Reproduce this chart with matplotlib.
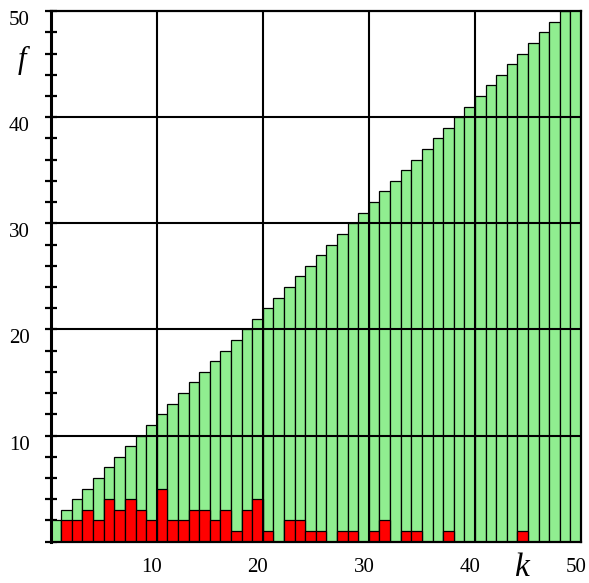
import numpy as np
import matplotlib
matplotlib.use("Agg")
import matplotlib.pyplot as plt
from matplotlib.ticker import MultipleLocator, FixedLocator
from matplotlib.transforms import ScaledTranslation

# bar index k (bar k covers the interval [k-1, k])
k = list(range(1, 51))
total = [2, 3, 4, 5, 6, 7, 8, 9, 10, 11,
         12, 13, 14, 15, 16, 17, 18, 19, 20, 21,
         22, 23, 24, 25, 26, 27, 28, 29, 30, 31,
         32, 33, 34, 35, 36, 37, 38, 39, 40, 41,
         42, 43, 44, 45, 46, 47, 48, 49, 50, 51]
marked = [0, 2, 2, 3, 2, 4, 3, 4, 3, 2,
          5, 2, 2, 3, 3, 2, 3, 1, 3, 4,
          1, 0, 2, 2, 1, 1, 0, 1, 1, 0,
          1, 2, 0, 1, 1, 0, 0, 1, 0, 0,
          0, 0, 0, 0, 1, 0, 0, 0, 0, 0]
xticks = [10, 20, 30, 40, 50]
yticks = [10, 20, 30, 40, 50]

plt.rcParams["font.family"] = ["Liberation Serif", "DejaVu Serif"]

fig = plt.figure(figsize=(5.89, 5.83), dpi=100)
ax = fig.add_axes([0.086, 0.071, 0.9005, 0.910])

left = [v - 1 for v in k]
ax.bar(left, total, width=1.0, align="edge", color="#90EE90",
       edgecolor="black", linewidth=0.9, zorder=2)
ax.bar(left, marked, width=1.0, align="edge", color="#FF0000",
       edgecolor="black", linewidth=0.9, zorder=3)

ax.set_xlim(0, 50)
ax.set_ylim(0, 50)

# grid lines drawn over the bars
for v in xticks[:-1]:
    ax.axvline(v, color="black", lw=1.5, zorder=4)
for v in yticks[:-1]:
    ax.axhline(v, color="black", lw=1.5, zorder=4)

for side in ["top", "right", "bottom"]:
    ax.spines[side].set_linewidth(1.6)
ax.spines["left"].set_linewidth(2.2)
for s in ax.spines.values():
    s.set_zorder(5)

ax.xaxis.set_major_locator(FixedLocator(xticks))
ax.yaxis.set_major_locator(FixedLocator(yticks))
ax.yaxis.set_minor_locator(MultipleLocator(2))
ax.tick_params(axis="y", which="both", direction="inout", length=8,
               width=1.6, labelsize=15, pad=11)
ax.tick_params(axis="x", which="both", length=0, labelsize=15, pad=12)
ax.set_xticklabels([str(v) for v in xticks])
ax.set_yticklabels([str(v) for v in yticks])
for lab in ax.get_yticklabels():
    lab.set_va("top")
for lab in ax.get_xticklabels():
    lab.set_transform(lab.get_transform() + ScaledTranslation(-0.05, 0, fig.dpi_scale_trans))

fig.text(22 / 589, 1 - 60 / 583, "f", fontsize=22, ha="center", va="center",
         style="italic")
fig.text(521 / 589, 1 - 568 / 583, "k", fontsize=24, ha="center", va="center",
         style="italic")

fig.savefig("out.png", dpi=100)
